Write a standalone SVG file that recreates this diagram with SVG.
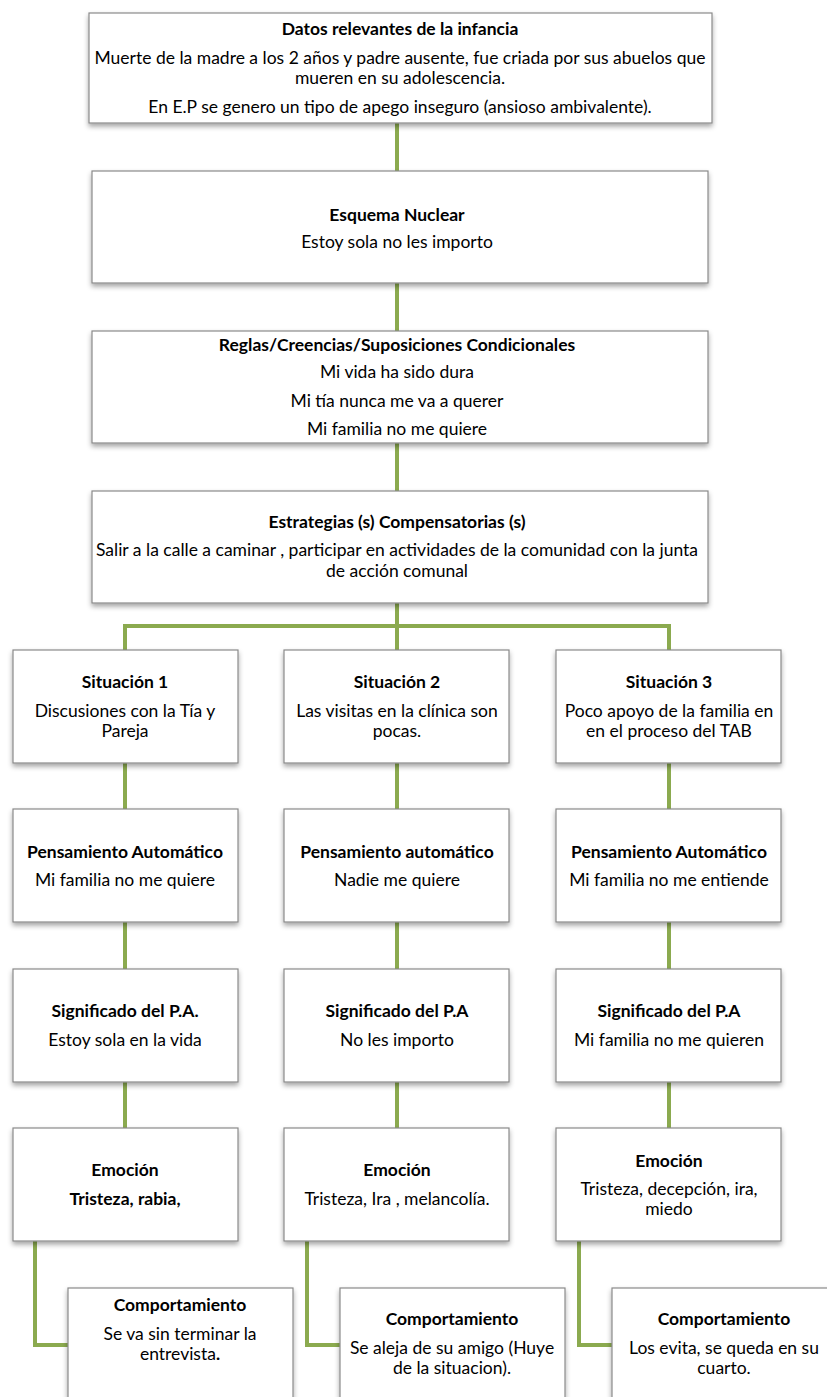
<svg xmlns="http://www.w3.org/2000/svg" width="827" height="1397" viewBox="0 0 827 1397">
<style>
.box{fill:#ffffff;stroke:#8a8a8a;stroke-width:1.2;filter:url(#sh)}
text{font-family:Lato,"Liberation Sans",sans-serif;font-size:17.5px;fill:#000;text-anchor:middle}
.t{font-weight:bold}
.con{fill:none;stroke:#8BAA4F;stroke-width:4}
</style>
<defs>
<filter id="sh" x="-5%" y="-10%" width="110%" height="130%">
<feDropShadow dx="0" dy="3" stdDeviation="2.5" flood-color="#000" flood-opacity="0.35"/>
</filter>
</defs>
<rect width="827" height="1397" fill="#fff"/>
<g id="connectors">
<path class="con" d="M397,123V171M397,283V331M397,443V491M397,603V626M125,650V626H669V650M397,626V650"/>
<path class="con" d="M125,763V809M397,763V809M669,763V809"/>
<path class="con" d="M125,922V969M397,922V969M669,922V969"/>
<path class="con" d="M125,1082V1128M397,1082V1128M669,1082V1128"/>
<path class="con" d="M35,1241V1345H68M307,1241V1345H340M579,1241V1345H612"/>
</g>
<g id="datos">
<rect class="box" x="89" y="13" width="623" height="110"/>
<text class="t" x="400" y="35">Datos relevantes de la infancia</text>
<text x="400" y="64">Muerte de la madre a los 2 años y padre ausente, fue criada por sus abuelos que</text>
<text x="400" y="84">mueren en su adolescencia.</text>
<text x="400" y="113">En E.P se genero un tipo de apego inseguro (ansioso ambivalente).</text>
</g>
<g id="esquema">
<rect class="box" x="92" y="171" width="616" height="112"/>
<text class="t" x="397" y="221">Esquema Nuclear</text>
<text x="397" y="248">Estoy sola no les importo</text>
</g>
<g id="reglas">
<rect class="box" x="92" y="331" width="616" height="112"/>
<text class="t" x="397" y="351">Reglas/Creencias/Suposiciones Condicionales</text>
<text x="397" y="378">Mi vida ha sido dura</text>
<text x="397" y="407">Mi tía nunca me va a querer</text>
<text x="397" y="435">Mi familia no me quiere</text>
</g>
<g id="estrategias">
<rect class="box" x="92" y="491" width="616" height="112"/>
<text class="t" x="397" y="528">Estrategias (s) Compensatorias (s)</text>
<text x="397" y="556">Salir a la calle a caminar , participar en actividades de la comunidad con la junta</text>
<text x="397" y="577">de acción comunal</text>
</g>
<g id="situacion1">
<rect class="box" x="13" y="650" width="225" height="113"/>
<text class="t" x="125" y="688">Situación 1</text>
<text x="125" y="717">Discusiones con la Tía y</text>
<text x="125" y="737">Pareja</text>
</g>
<g id="situacion2">
<rect class="box" x="284" y="650" width="225" height="113"/>
<text class="t" x="397" y="688">Situación 2</text>
<text x="397" y="717">Las visitas en la clínica son</text>
<text x="397" y="737">pocas.</text>
</g>
<g id="situacion3">
<rect class="box" x="556" y="650" width="225" height="113"/>
<text class="t" x="669" y="688">Situación 3</text>
<text x="669" y="717">Poco apoyo de la familia en</text>
<text x="669" y="737">en el proceso del TAB</text>
</g>
<g id="pensamiento1">
<rect class="box" x="13" y="809" width="225" height="113"/>
<text class="t" x="125" y="858">Pensamiento Automático</text>
<text x="125" y="886">Mi familia no me quiere</text>
</g>
<g id="pensamiento2">
<rect class="box" x="284" y="809" width="225" height="113"/>
<text class="t" x="397" y="858">Pensamiento automático</text>
<text x="397" y="886">Nadie me quiere</text>
</g>
<g id="pensamiento3">
<rect class="box" x="556" y="809" width="225" height="113"/>
<text class="t" x="669" y="858">Pensamiento Automático</text>
<text x="669" y="886">Mi familia no me entiende</text>
</g>
<g id="significado1">
<rect class="box" x="13" y="969" width="225" height="113"/>
<text class="t" x="125" y="1017">Significado del P.A.</text>
<text x="125" y="1046">Estoy sola en la vida</text>
</g>
<g id="significado2">
<rect class="box" x="284" y="969" width="225" height="113"/>
<text class="t" x="397" y="1017">Significado del P.A</text>
<text x="397" y="1046">No les importo</text>
</g>
<g id="significado3">
<rect class="box" x="556" y="969" width="225" height="113"/>
<text class="t" x="669" y="1017">Significado del P.A</text>
<text x="669" y="1046">Mi familia no me quieren</text>
</g>
<g id="emocion1">
<rect class="box" x="13" y="1128" width="225" height="113"/>
<text class="t" x="125" y="1176">Emoción</text>
<text class="t" x="125" y="1205">Tristeza, rabia,</text>
</g>
<g id="emocion2">
<rect class="box" x="284" y="1128" width="225" height="113"/>
<text class="t" x="397" y="1176">Emoción</text>
<text x="397" y="1205">Tristeza, Ira , melancolía.</text>
</g>
<g id="emocion3">
<rect class="box" x="556" y="1128" width="225" height="113"/>
<text class="t" x="669" y="1167">Emoción</text>
<text x="669" y="1195">Tristeza, decepción, ira,</text>
<text x="669" y="1215">miedo</text>
</g>
<g id="comportamiento1">
<rect class="box" x="68" y="1288" width="225" height="125"/>
<text class="t" x="180" y="1311">Comportamiento</text>
<text x="180" y="1340">Se va sin terminar la</text>
<text x="180" y="1360">entrevista<tspan class="t">.</tspan></text>
</g>
<g id="comportamiento2">
<rect class="box" x="340" y="1288" width="225" height="125"/>
<text class="t" x="452" y="1325">Comportamiento</text>
<text x="452" y="1354">Se aleja de su amigo (Huye</text>
<text x="452" y="1374">de la situacion).</text>
</g>
<g id="comportamiento3">
<rect class="box" x="612" y="1288" width="225" height="125"/>
<text class="t" x="724" y="1325">Comportamiento</text>
<text x="724" y="1354">Los evita, se queda en su</text>
<text x="724" y="1374">cuarto.</text>
</g>
</svg>
